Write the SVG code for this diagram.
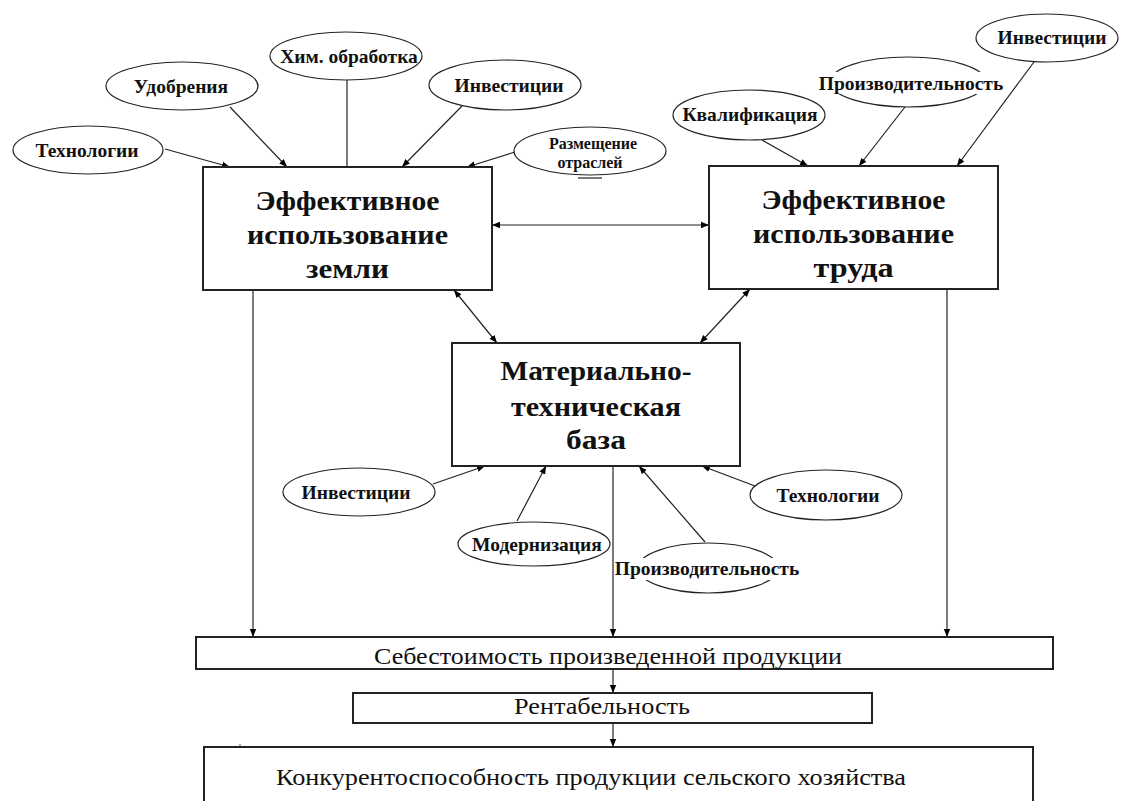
<svg xmlns="http://www.w3.org/2000/svg" width="1121" height="801" viewBox="0 0 1121 801" font-family="'Liberation Serif', 'DejaVu Serif', serif">
<defs>
<marker id="ah" viewBox="0 0 10 10" refX="10" refY="5" markerWidth="8" markerHeight="8" orient="auto-start-reverse" markerUnits="userSpaceOnUse"><path d="M0,1 L10,5 L0,9 z" fill="#000"/></marker>
<style>
.box{fill:#fff;stroke:#222;stroke-width:2}
.ell{fill:#fff;stroke:#222;stroke-width:1.2}
text{font-family:'Liberation Serif','DejaVu Serif',serif}
.big{font-weight:bold;font-size:28px;text-anchor:middle;fill:#111}
.lab{font-weight:bold;font-size:19.5px;text-anchor:middle;fill:#111}
.sm{font-weight:bold;font-size:16px;text-anchor:middle;fill:#111}
.reg{font-size:24px;text-anchor:middle;fill:#111}
.c{fill:none;stroke:#222;stroke-width:1.2}
.a{fill:none;stroke:#222;stroke-width:1.2;marker-end:url(#ah)}
.d{fill:none;stroke:#222;stroke-width:1.2;marker-start:url(#ah);marker-end:url(#ah)}
</style>
</defs>
<rect width="1121" height="801" fill="#fff"/>

<g id="connectors">
<line class="a" x1="165" y1="149" x2="230" y2="167"/>
<line class="a" x1="230" y1="107" x2="287" y2="167"/>
<line class="c" x1="347" y1="80" x2="347" y2="167"/>
<line class="a" x1="462" y1="106" x2="402" y2="167"/>
<line class="a" x1="515" y1="152" x2="467" y2="167"/>
<line class="a" x1="762" y1="140" x2="808" y2="166"/>
<line class="a" x1="905" y1="107" x2="859" y2="166"/>
<line class="a" x1="1034" y1="62" x2="957" y2="166"/>
<line class="d" x1="492" y1="225" x2="709" y2="225"/>
<line class="d" x1="454" y1="290" x2="497" y2="343"/>
<line class="d" x1="750" y1="289" x2="700" y2="343"/>
<line class="a" x1="433" y1="484" x2="485" y2="466"/>
<line class="a" x1="517" y1="521" x2="546" y2="466"/>
<line class="a" x1="705" y1="542" x2="639" y2="466"/>
<line class="a" x1="755" y1="486" x2="702" y2="466"/>
<line class="a" x1="253" y1="290" x2="253" y2="637"/>
<line class="a" x1="613" y1="466" x2="613" y2="637"/>
<line class="a" x1="947" y1="289" x2="947" y2="637"/>
<line class="a" x1="613" y1="669" x2="613" y2="693"/>
<line class="a" x1="613" y1="723" x2="613" y2="747"/>
</g>

<g id="n-tech1"><ellipse class="ell" cx="88" cy="150" rx="75" ry="24"/><text class="lab" x="87" y="157">Технологии</text></g>
<g id="n-udobr"><ellipse class="ell" cx="182" cy="86" rx="76" ry="24"/><text class="lab" x="181" y="93">Удобрения</text></g>
<g id="n-him"><ellipse class="ell" cx="346" cy="56" rx="76" ry="24"/><text class="lab" x="349" y="63">Хим. обработка</text></g>
<g id="n-inv1"><ellipse class="ell" cx="505" cy="85" rx="76" ry="25"/><text class="lab" x="509" y="92">Инвестиции</text></g>
<g id="n-razm"><ellipse class="ell" cx="590" cy="151" rx="76" ry="24"/><text class="sm" x="593" y="149">Размещение</text><text class="sm" x="590" y="168">отраслей</text><line x1="578" y1="178" x2="602" y2="178" stroke="#222" stroke-width="1.2"/></g>
<g id="n-kval"><ellipse class="ell" cx="749" cy="115" rx="76" ry="25"/><text class="lab" x="750" y="121">Квалификация</text></g>
<g id="n-proizv1"><ellipse class="ell" cx="908" cy="82" rx="78" ry="25"/><rect x="817" y="72" width="188" height="22" fill="#fff"/><text class="lab" x="911" y="90">Производительность</text></g>
<g id="n-inv2"><ellipse class="ell" cx="1047" cy="38" rx="71" ry="24"/><text class="lab" x="1052" y="44">Инвестиции</text></g>

<g id="n-land"><rect class="box" x="203" y="167" width="289" height="123"/><text class="big" x="347.5" y="210" textLength="184" lengthAdjust="spacingAndGlyphs">Эффективное</text><text class="big" x="347.5" y="244" textLength="201" lengthAdjust="spacingAndGlyphs">использование</text><text class="big" x="347.5" y="278" textLength="83" lengthAdjust="spacingAndGlyphs">земли</text></g>
<g id="n-labor"><rect class="box" x="709" y="166" width="289" height="123"/><text class="big" x="853.5" y="209" textLength="184" lengthAdjust="spacingAndGlyphs">Эффективное</text><text class="big" x="853.5" y="243" textLength="201" lengthAdjust="spacingAndGlyphs">использование</text><text class="big" x="853.5" y="277" textLength="80" lengthAdjust="spacingAndGlyphs">труда</text></g>
<g id="n-mtb"><rect class="box" x="452" y="343" width="288" height="123"/><text class="big" x="596" y="380" textLength="191" lengthAdjust="spacingAndGlyphs">Материально-</text><text class="big" x="596" y="416" textLength="170" lengthAdjust="spacingAndGlyphs">техническая</text><text class="big" x="596" y="449" textLength="60" lengthAdjust="spacingAndGlyphs">база</text></g>

<g id="n-inv3"><ellipse class="ell" cx="359" cy="492" rx="76" ry="24"/><text class="lab" x="356" y="499">Инвестиции</text></g>
<g id="n-modern"><ellipse class="ell" cx="534" cy="544" rx="76" ry="22"/><text class="lab" x="537" y="551">Модернизация</text></g>
<g id="n-proizv2"><ellipse class="ell" cx="708" cy="568" rx="70" ry="25"/><rect x="614" y="558" width="188" height="22" fill="#fff"/><text class="lab" x="707" y="575">Производительность</text></g>
<g id="n-tech2"><ellipse class="ell" cx="826" cy="495" rx="76" ry="25"/><text class="lab" x="828" y="502">Технологии</text></g>

<g id="n-cost"><rect class="box" x="196" y="637" width="857" height="32"/><text class="reg" x="608" y="664" textLength="468" lengthAdjust="spacingAndGlyphs">Себестоимость произведенной продукции</text></g>
<g id="n-rent"><rect class="box" x="353" y="693" width="519" height="30"/><text class="reg" x="602" y="714" textLength="176" lengthAdjust="spacingAndGlyphs">Рентабельность</text></g>
<g id="n-comp"><rect class="box" x="204" y="747" width="829" height="60"/><text class="reg" x="591" y="785" textLength="630" lengthAdjust="spacingAndGlyphs">Конкурентоспособность продукции сельского хозяйства</text></g>
<circle cx="240" cy="745" r="0.8" fill="#444"/>
</svg>
